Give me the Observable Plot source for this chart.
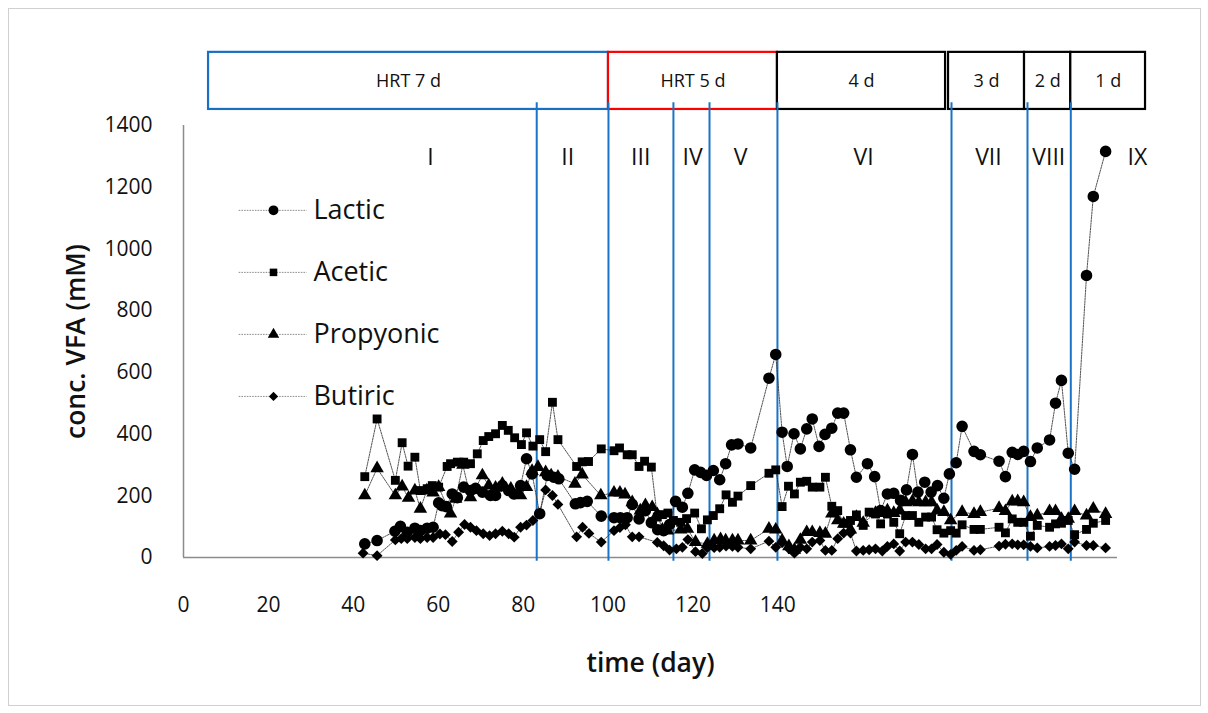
<!DOCTYPE html>
<html>
<head>
<meta charset="utf-8">
<script src="https://cdn.jsdelivr.net/npm/d3@7"></script>
<script src="https://cdn.jsdelivr.net/npm/@observablehq/plot@0.6"></script>
<style>
  body { margin: 0; background: #fff; }
  #wrap { position: relative; width: 1208px; height: 713px; overflow: hidden; }
  #frame { position: absolute; left: 8px; top: 8px; width: 1191px; height: 696px; border: 1px solid #d0d0d0; }
  #chart { position: absolute; left: 0; top: 0; }
</style>
</head>
<body>
<div id="wrap"><div id="frame"></div><div id="chart"></div></div>
<script>
// ---- data: [day, concentration mM] ----
const lactic = [[42.7,44],[45.6,55],[49.8,85],[51.1,101],[52.7,82],[54.5,95],[55.8,87],[57.4,95],[58.8,98],[60.1,177],[60.9,168],[61.9,165],[63.3,206],[64.5,194],[66.0,228],[67.6,217],[68.8,224],[70.4,212],[72.3,201],[73.5,201],[75.1,233],[76.6,217],[77.8,206],[79.4,233],[80.8,320],[82.1,271],[83.9,142],[85.7,266],[87.2,260],[88.4,255],[92.3,174],[93.5,178],[95.1,182],[98.4,134],[101.4,129],[102.9,129],[104.5,129],[105.7,172],[107.3,125],[108.8,152],[110.2,113],[111.7,90],[113.1,87],[114.5,107],[115.9,182],[117.5,163],[118.8,208],[120.4,284],[121.8,276],[123.2,266],[124.8,282],[126.3,252],[127.7,304],[129.1,365],[130.6,368],[133.6,355],[137.9,581],[139.5,658],[141.0,406],[142.2,295],[143.8,401],[145.3,352],[146.8,417],[148.1,449],[149.7,360],[151.1,399],[152.7,419],[154.1,468],[155.5,468],[157.1,349],[158.5,260],[161.1,304],[162.8,262],[164.2,152],[165.8,206],[167.3,208],[168.9,185],[170.3,219],[171.7,334],[173.0,212],[174.6,244],[176.1,212],[177.6,233],[179.1,192],[180.4,271],[182.0,307],[183.4,425],[186.2,344],[187.7,333],[192.1,312],[193.6,262],[195.2,341],[196.5,334],[197.9,344],[199.5,311],[201.1,355],[204.0,381],[205.4,500],[206.8,574],[208.4,338],[209.9,286],[212.7,914],[214.3,1170],[217.2,1316]];
const acetic = [[42.7,262],[45.6,449],[49.9,250],[51.5,372],[52.9,296],[54.5,325],[55.8,217],[57.4,223],[58.6,233],[60.1,228],[62.1,295],[62.9,304],[64.5,309],[66.0,309],[67.6,304],[69.2,336],[70.6,379],[71.9,392],[73.5,401],[75.1,428],[76.5,412],[78.0,388],[79.6,366],[80.8,404],[82.3,361],[83.9,382],[85.3,343],[86.9,503],[88.2,382],[92.6,295],[93.9,310],[95.4,311],[98.4,352],[101.4,346],[102.7,355],[104.5,333],[105.7,333],[107.3,295],[108.6,312],[110.2,293],[111.6,131],[112.8,139],[114.1,144],[115.4,120],[117.1,114],[118.5,126],[120.4,144],[122.0,93],[123.4,122],[124.8,136],[126.3,158],[127.8,203],[129.3,179],[130.6,199],[133.6,233],[137.9,273],[139.5,284],[141.0,165],[142.5,231],[143.9,206],[145.3,244],[146.8,247],[148.1,228],[149.9,228],[151.2,260],[152.7,166],[154.1,152],[155.5,111],[157.1,120],[158.5,138],[160.1,104],[161.5,147],[163.0,141],[164.2,109],[165.8,141],[167.3,114],[168.7,77],[170.1,136],[171.7,136],[173.2,114],[174.8,131],[176.2,131],[177.5,90],[179.1,79],[180.7,87],[182.0,79],[183.4,106],[186.2,91],[187.7,91],[192.1,98],[193.6,80],[195.2,125],[196.5,114],[197.9,114],[199.5,69],[201.1,104],[204.0,98],[205.4,109],[206.8,111],[208.4,120],[209.9,74],[212.7,91],[214.3,111],[217.2,120]];
const propyonic = [[42.7,201],[45.6,289],[49.9,201],[51.5,230],[53.0,193],[54.5,217],[55.8,158],[57.3,217],[58.8,210],[60.1,228],[62.9,142],[64.1,190],[65.8,300],[67.6,195],[70.4,266],[71.9,233],[73.5,226],[75.1,239],[77.1,223],[79.4,201],[80.8,228],[82.1,280],[83.5,293],[85.3,276],[86.6,266],[88.2,262],[92.2,239],[93.9,269],[98.3,201],[101.4,210],[102.8,210],[104.0,204],[105.7,179],[107.6,152],[108.8,169],[110.4,163],[111.6,140],[112.8,90],[114.0,87],[117.1,90],[118.7,93],[120.6,50],[123.4,44],[125.0,55],[126.5,59],[127.7,55],[129.3,55],[130.6,55],[133.6,55],[137.9,93],[139.5,90],[141.0,55],[142.6,36],[143.9,25],[145.3,57],[146.8,82],[148.1,82],[149.9,79],[151.2,77],[152.7,142],[154.1,120],[155.5,109],[157.1,90],[158.5,131],[160.1,112],[163.0,144],[164.6,144],[165.8,152],[167.3,144],[168.7,152],[170.1,179],[171.7,182],[173.2,179],[174.8,179],[176.2,179],[177.5,152],[179.1,147],[180.7,120],[183.4,147],[186.2,141],[187.7,147],[192.1,160],[193.6,150],[195.2,181],[196.5,182],[197.9,179],[199.5,131],[201.1,136],[204.0,150],[205.4,150],[206.8,125],[208.4,125],[209.9,150],[212.7,136],[214.3,158],[217.2,141]];
const butiric = [[42.3,14],[45.6,6],[49.9,57],[51.3,61],[52.7,61],[54.5,65],[55.8,61],[57.4,65],[58.8,65],[60.4,76],[61.7,74],[63.3,52],[64.8,82],[66.2,107],[67.6,98],[69.0,87],[70.6,77],[72.1,71],[73.5,77],[75.1,85],[76.6,77],[77.9,66],[79.4,98],[80.8,105],[82.3,120],[83.9,144],[85.3,219],[86.9,201],[88.2,172],[92.6,67],[94.0,98],[95.5,78],[98.4,50],[101.4,87],[102.8,97],[104.1,106],[105.7,67],[107.3,67],[111.6,49],[113.1,38],[114.5,24],[116.1,28],[117.5,33],[118.8,58],[120.6,19],[122.2,13],[123.4,32],[125.0,32],[126.3,33],[127.8,37],[129.3,36],[130.6,33],[133.6,28],[137.9,53],[139.5,33],[141.0,48],[142.6,28],[143.9,14],[145.3,33],[146.8,28],[148.1,50],[149.9,55],[151.2,23],[152.7,23],[154.1,61],[155.5,79],[157.1,79],[158.5,21],[160.1,23],[161.5,25],[163.0,28],[164.6,21],[165.8,36],[167.3,44],[168.7,21],[170.1,50],[171.7,50],[173.2,42],[174.8,28],[176.2,28],[177.5,42],[179.1,17],[180.7,10],[182.0,23],[183.4,36],[186.2,23],[187.7,25],[192.1,37],[193.6,43],[195.2,44],[196.5,41],[197.9,41],[199.5,36],[201.1,31],[204.0,36],[205.4,39],[206.8,44],[208.4,28],[209.9,50],[212.7,39],[214.3,39],[217.2,31]];

const seriesNames = ["Lactic", "Acetic", "Propyonic", "Butiric"];
const seriesSymbols = ["circle", "square", "triangle", "diamond2"];
const xTicks = [0, 20, 40, 60, 80, 100, 120, 140];
const yTicks = [0, 200, 400, 600, 800, 1000, 1200, 1400];

// stage boundaries (day) and stage labels
const stageBounds = [83.2, 100.1, 115.4, 123.9, 139.9, 180.9, 198.8, 209.0];
const stageNames = ["I", "II", "III", "IV", "V", "VI", "VII", "VIII", "IX"];
const stageLabelDay = [58.2, 90.5, 107.7, 119.9, 131.2, 160.2, 189.6, 203.8, 224.7];

// HRT boxes
const hrtLabels = ["HRT 7 d", "HRT 5 d", "4 d", "3 d", "2 d", "1 d"];
const hrtStart = [5.9, 100.1, 139.9, 180.2, 198.1, 209.0];
const hrtEnd = [100.1, 139.9, 179.5, 198.1, 209.0, 226.6];
const hrtColors = ["#1a6fc4", "#ff0000", "#000000", "#000000", "#000000", "#000000"];

// ---- build ----
const FONT = "'Open Sans', 'Noto Sans', sans-serif";
const BOX_Y1 = 1452, BOX_Y2 = 1637;
const hrt = hrtLabels.map((l, i) => ({label: l, x1: hrtStart[i], x2: hrtEnd[i], color: hrtColors[i], mid: (hrtStart[i] + hrtEnd[i]) / 2}));
const stages = stageNames.map((n, i) => ({name: n, x: stageLabelDay[i]}));
const allSeries = [lactic, acetic, propyonic, butiric];
const markerR = [5.8, 5.0, 5.0, 4.9];

const legendY = [1125, 924, 723, 522];
const legend = seriesNames.map((n, i) => ({name: n, y: legendY[i], symbol: seriesSymbols[i], r: markerR[i]}));

const lineStyle = {stroke: "#333", strokeWidth: 0.85, strokeDasharray: "1.6 1.1"};

const marks = [
  // axis lines
  Plot.ruleY([0], {x1: 0, x2: 220, stroke: "#8c8c8c", strokeWidth: 1.5}),
  Plot.ruleX([0], {y1: 0, y2: 1400, stroke: "#8c8c8c", strokeWidth: 1.5}),
  Plot.axisX({ticks: xTicks, tickSize: 0, tickPadding: 40, fontSize: 21, label: null, tickFormat: d => String(d)}),
  Plot.axisY({ticks: yTicks, tickSize: 0, tickPadding: 31, fontSize: 21, label: null, tickFormat: d => String(d)}),
  Plot.text(["time (day)"], {frameAnchor: "bottom", dy: 106, fontSize: 26.5, fontWeight: 600, lineAnchor: "middle", fill: "#111"}),
  Plot.text(["conc. VFA (mM)"], {frameAnchor: "left", dx: -107, rotate: -90, fontSize: 26.5, fontWeight: 600, lineAnchor: "middle", textAnchor: "middle", fill: "#111"}),
  // HRT boxes
  Plot.rect(hrt, {x1: "x1", x2: "x2", y1: BOX_Y1, y2: BOX_Y2, fill: "white", stroke: "color", strokeWidth: 2.2}),
  Plot.text(hrt, {x: "mid", y: 1543, text: "label", fontSize: 18, fill: "#111"}),
  // stage boundaries
  Plot.ruleX(stageBounds, {y1: -12, y2: 1474, stroke: "#1a74c6", strokeWidth: 2}),
  Plot.text(stages, {x: "x", y: 1296, text: "name", fontSize: 23, fill: "#111"}),
];

allSeries.forEach((s, i) => {
  marks.push(Plot.line(s, {x: d => d[0], y: d => d[1], ...lineStyle}));
});
allSeries.forEach((s, i) => {
  marks.push(Plot.dot(s, {x: d => d[0], y: d => d[1], symbol: () => seriesSymbols[i], r: markerR[i], fill: "#000", stroke: "none"}));
});

// legend
marks.push(
  Plot.link(legend, {x1: 13, x2: 29, y1: "y", y2: "y", ...lineStyle, stroke: "#777"}),
  Plot.dot(legend, {x: 21.2, y: "y", symbol: "symbol", r: d => d.r * 0.85, fill: "#000", stroke: "none"}),
  Plot.text(legend, {x: 30.6, y: "y", text: "name", textAnchor: "start", fontSize: 27, fill: "#111"})
);

const chart = Plot.plot({
  width: 1208,
  height: 713,
  marginLeft: 183,
  marginRight: 91,
  marginTop: 125,
  marginBottom: 156,
  x: {domain: [0, 220], axis: null},
  y: {domain: [0, 1400], axis: null},
  color: {type: "identity"},
  symbol: {type: "identity"},
  r: {type: "identity"},
  style: {fontFamily: FONT, color: "#111", background: "transparent", overflow: "visible"},
  marks
});
document.getElementById("chart").appendChild(chart);
</script>
</body>
</html>
